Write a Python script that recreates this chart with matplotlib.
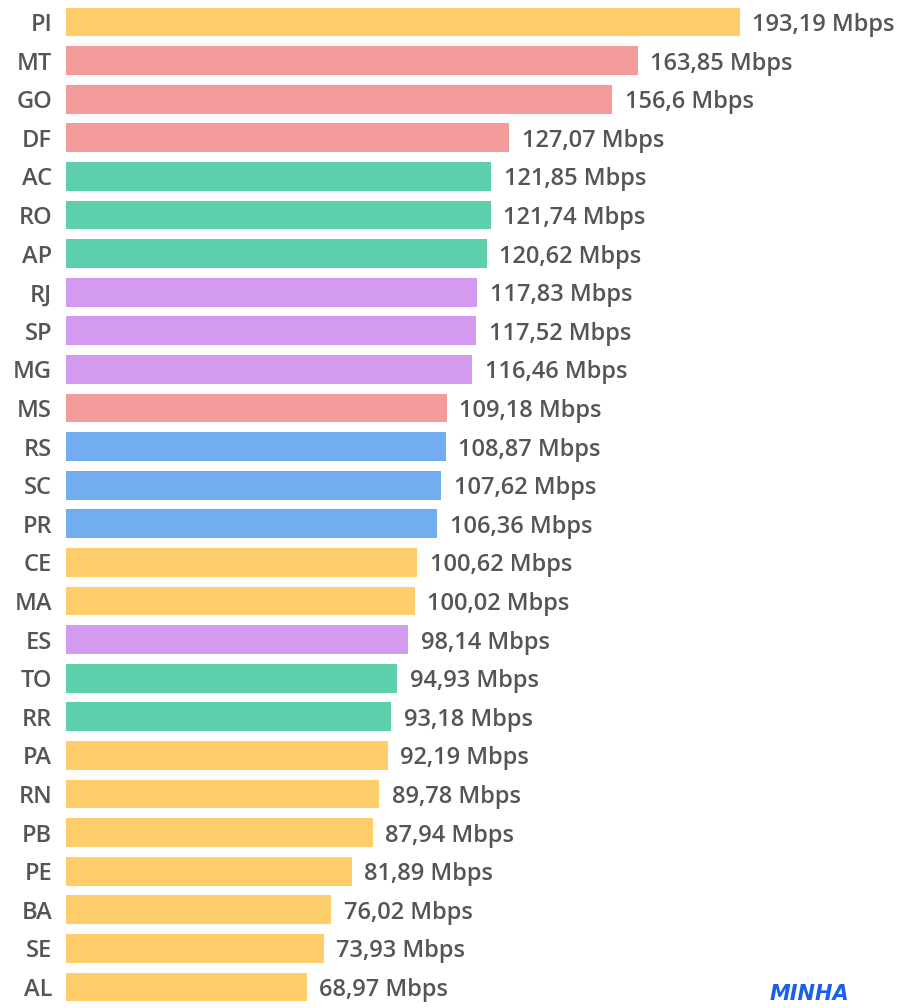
import matplotlib
matplotlib.use("Agg")
import matplotlib.pyplot as plt

states = ["PI", "MT", "GO", "DF", "AC", "RO", "AP", "RJ", "SP", "MG", "MS", "RS", "SC",
          "PR", "CE", "MA", "ES", "TO", "RR", "PA", "RN", "PB", "PE", "BA", "SE", "AL"]
speeds = [193.19, 163.85, 156.6, 127.07, 121.85, 121.74, 120.62, 117.83, 117.52, 116.46,
          109.18, 108.87, 107.62, 106.36, 100.62, 100.02, 98.14, 94.93, 93.18, 92.19,
          89.78, 87.94, 81.89, 76.02, 73.93, 68.97]
regions = ["NE", "CO", "CO", "CO", "N", "N", "N", "SE", "SE", "SE", "CO", "S", "S",
           "S", "NE", "NE", "SE", "N", "N", "NE", "NE", "NE", "NE", "NE", "NE", "NE"]
region_colors = {"NE": "#FFCE6B", "CO": "#F49B9B", "N": "#5ECFAD",
                 "SE": "#D49AF0", "S": "#72AEEE"}
colors = [region_colors[r] for r in regions]

plt.rcParams['font.family'] = ['Open Sans', 'DejaVu Sans']

W, H = 899, 1008
fig = plt.figure(figsize=(W / 100, H / 100), dpi=100)
left_px = 66
ax = fig.add_axes([left_px / W, 0, 1 - left_px / W, 1])

pos = list(range(len(states)))
ax.barh(pos, speeds, height=0.75, color=colors, edgecolor="none")

bar_end_px = 740
xmax = speeds[0] * (W - left_px) / (bar_end_px - left_px)
ax.set_xlim(0, xmax)
row_px = 38.6
top_center = 22
ax.set_ylim((H - top_center) / row_px, -top_center / row_px)

for y, v in zip(pos, speeds):
    label = f"{v:g}".replace(".", ",") + " Mbps"
    ax.annotate(label, (v, y), xytext=(9, 0), textcoords="offset points",
                va="center_baseline", ha="left", fontsize=17, fontweight="semibold",
                color="#555555")

ax.set_yticks(pos)
ax.set_yticklabels(states, fontsize=17, fontweight="semibold", color="#555555",
                   va="center_baseline")
ax.tick_params(axis="y", length=0, pad=10)
ax.set_xticks([])
for s in ax.spines.values():
    s.set_visible(False)

fig.text(770 / W, 1 - 1004 / H, "MINHA", family="DejaVu Sans", fontsize=15,
         fontweight="bold", fontstyle="italic", color="#1A5EF0", va="bottom", ha="left")

fig.savefig("out.png", dpi=100)
